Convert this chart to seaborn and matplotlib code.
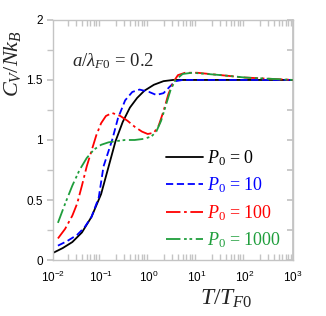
import numpy as np
import pandas as pd
import matplotlib
matplotlib.use("Agg")
import matplotlib.pyplot as plt
import matplotlib.ticker as mticker
import seaborn as sns

# curves, x given as log10(T/T_F0)
logt_p0 = [-2.0, -1.8, -1.6, -1.4, -1.2, -1.0, -0.85, -0.7, -0.55, -0.4, -0.25, -0.1, 0.1, 0.3, 0.5, 1.0, 2.0, 3.0]
cv_p0 = [0.06, 0.10, 0.15, 0.23, 0.36, 0.55, 0.77, 0.99, 1.15, 1.27, 1.35, 1.41, 1.46, 1.49, 1.50, 1.50, 1.50, 1.50]

logt_p10 = [-1.9, -1.7, -1.5, -1.35, -1.2, -1.05, -0.95, -0.77, -0.65, -0.5, -0.35, -0.2, 0.0, 0.15, 0.3, 0.42,
            0.55, 0.7, 1.5, 3.0]
cv_p10 = [0.12, 0.16, 0.21, 0.27, 0.36, 0.52, 0.78, 1.00, 1.18, 1.33, 1.40, 1.42, 1.40, 1.375, 1.39, 1.44,
          1.49, 1.50, 1.50, 1.50]

logt_p100 = [-1.9, -1.75, -1.6, -1.5, -1.4, -1.3, -1.2, -1.1, -1.0, -0.9, -0.77, -0.6, -0.45, -0.3, -0.15, -0.03,
             0.1, 0.2, 0.3, 0.4, 0.5, 0.6, 0.75, 1.0, 1.5, 2.0, 2.5, 3.0]
cv_p100 = [0.18, 0.26, 0.37, 0.47, 0.62, 0.78, 0.91, 1.04, 1.14, 1.20, 1.225, 1.20, 1.16, 1.11, 1.07, 1.05,
           1.06, 1.12, 1.24, 1.38, 1.48, 1.54, 1.56, 1.56, 1.54, 1.52, 1.51, 1.50]

logt_p1000 = [-1.9, -1.75, -1.6, -1.45, -1.3, -1.15, -1.0, -0.85, -0.7, -0.5, -0.3, -0.1, 0.05, 0.15, 0.25, 0.35,
              0.45, 0.55, 0.7, 0.9, 1.5, 2.0, 2.5, 3.0]
cv_p1000 = [0.31, 0.47, 0.62, 0.75, 0.85, 0.92, 0.96, 0.98, 0.99, 1.00, 1.00, 1.01, 1.03, 1.07, 1.16, 1.29,
            1.42, 1.50, 1.55, 1.56, 1.54, 1.52, 1.51, 1.50]

labels = [r"$P_0$ = 0", r"$P_0$ = 10", r"$P_0$ = 100", r"$P_0$ = 1000"]
colors = ["black", "#0000ff", "#ff0000", "#1f9e3c"]
dashes = [(None, None), (4, 2), (8, 2, 1.5, 2), (8, 2, 1.5, 1.5, 1.5, 2)]

sns.set_theme(style="white")
plt.rcParams["font.family"] = ["Liberation Sans", "DejaVu Sans"]
plt.rcParams["mathtext.fontset"] = "custom"
plt.rcParams["mathtext.rm"] = "Liberation Serif"
plt.rcParams["mathtext.it"] = "Liberation Serif:italic"
plt.rcParams["mathtext.bf"] = "Liberation Serif:bold"
plt.rcParams["mathtext.sf"] = "Liberation Sans"
plt.rcParams["mathtext.fallback"] = "stix"

fig = plt.figure(figsize=(3.26, 3.16), dpi=100)
ax = fig.add_axes([0.163, 0.177, 0.736, 0.76])

curves = [(logt_p0, cv_p0), (logt_p10, cv_p10), (logt_p100, cv_p100), (logt_p1000, cv_p1000)]
for (lt, cv), lab, col, ds in zip(curves, labels, colors, dashes):
    df = pd.DataFrame({"T": 10 ** np.array(lt), "cv": cv})
    sns.lineplot(data=df, x="T", y="cv", ax=ax, color=col, lw=1.3, label=lab)
    if ds[0] is not None:
        ax.lines[-1].set_dashes(ds)

ax.set_xscale("log")
ax.set_xlim(1e-2, 1e3)
ax.set_ylim(0, 2)

ax.xaxis.set_major_locator(mticker.LogLocator(base=10, numticks=10))
ax.xaxis.set_minor_locator(mticker.LogLocator(base=10, subs=np.arange(2, 10), numticks=20))
ax.xaxis.set_major_formatter(mticker.FuncFormatter(lambda v, p: r"$\mathsf{10^{%d}}$" % round(np.log10(v))))
ax.xaxis.set_minor_formatter(mticker.NullFormatter())
ax.yaxis.set_major_locator(mticker.MultipleLocator(0.5))
ax.yaxis.set_minor_locator(mticker.MultipleLocator(0.25))
ax.yaxis.set_major_formatter(mticker.FuncFormatter(lambda v, p: "%g" % v))

grey = "#c4c4c4"
for s in ax.spines.values():
    s.set_color(grey)
    s.set_linewidth(1.0)
ax.tick_params(axis="both", which="both", colors=grey, labelcolor="black", labelsize=8.5)
ax.tick_params(axis="x", which="major", direction="out", length=4, top=False, pad=3)
ax.tick_params(axis="x", which="minor", direction="in", length=4, top=True, bottom=True)
ax.tick_params(axis="y", which="both", direction="out", length=4, left=True, right=False)

# inward ticks on the right side
axr = ax.secondary_yaxis("right")
axr.yaxis.set_major_locator(mticker.MultipleLocator(0.25))
axr.tick_params(direction="in", length=4, colors=grey, labelright=False)
axr.spines["right"].set_color(grey)

ax.set_xlabel(r"$T/T_{F0}$", fontsize=17)
ax.xaxis.set_label_coords(0.72, -0.115)
ax.set_ylabel(r"$C_V/Nk_B$", fontsize=16)
ax.yaxis.set_label_coords(-0.125, 0.82)

ax.text(0.08, 0.83, r"$a/\lambda_{F0}$ = 0.2", transform=ax.transAxes, fontsize=13.5, va="center",
        family="Liberation Serif")

leg = ax.legend(loc="upper left", bbox_to_anchor=(0.47, 0.465), frameon=False,
                prop={"family": "Liberation Serif", "size": 13},
                handlelength=2.05, handletextpad=0.25, labelspacing=0.42, borderpad=0, borderaxespad=0,
                labelcolor="linecolor")

fig.savefig("out.png", dpi=100)
